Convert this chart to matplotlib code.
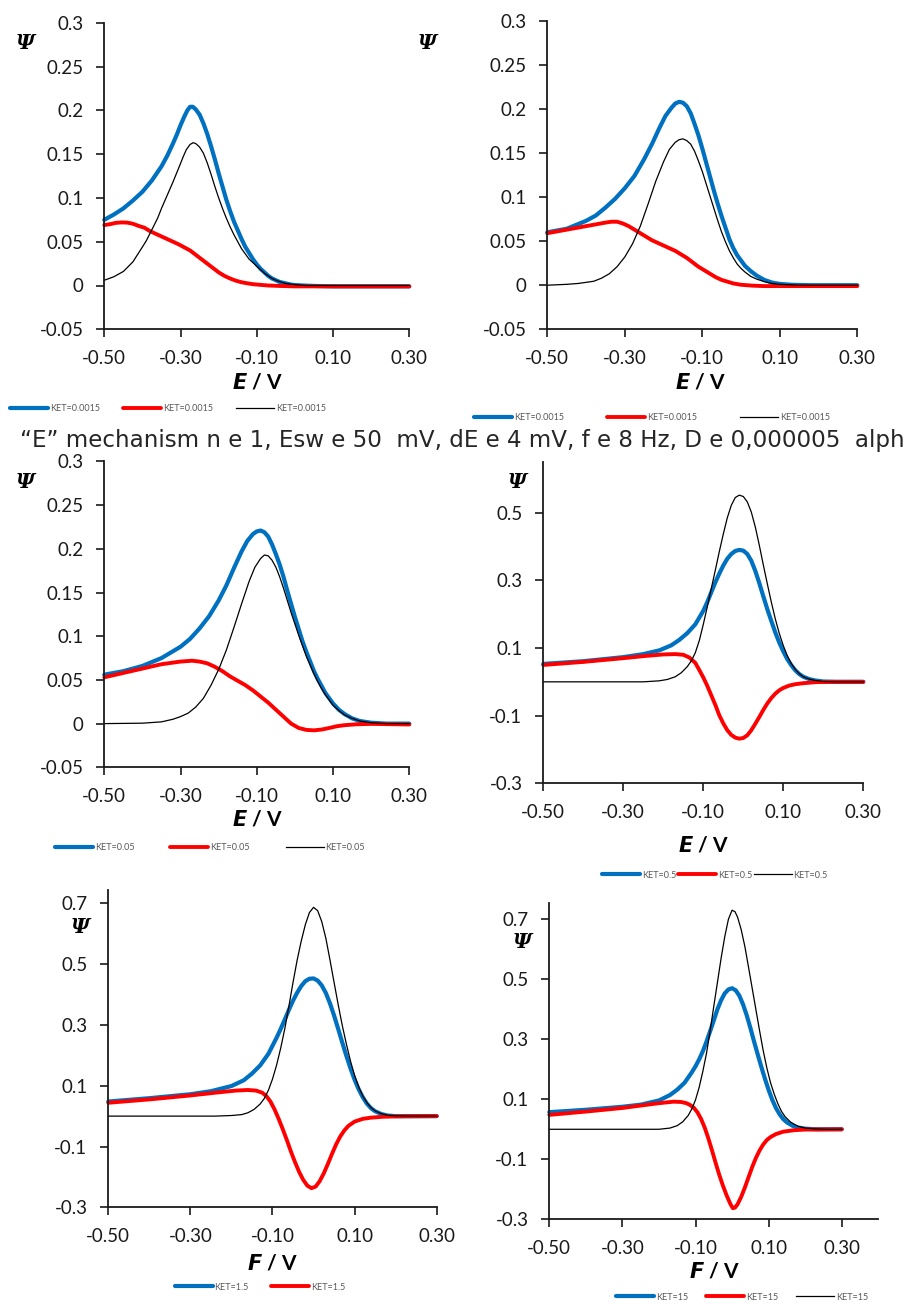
import numpy as np
import matplotlib
matplotlib.use("Agg")
import matplotlib.pyplot as plt

plt.rcParams['font.family'] = ['Lato', 'DejaVu Sans']

# ---- data (E in V, Psi dimensionless) ----
# panel A : top left, KET=0.0015
blue_A_E = [-0.50, -0.475, -0.45, -0.425, -0.40, -0.375, -0.35, -0.335, -0.32, -0.31, -0.30, -0.29, -0.282,
            -0.275, -0.268, -0.26, -0.25, -0.24, -0.23, -0.22, -0.21, -0.20, -0.19, -0.18, -0.17, -0.16,
            -0.15, -0.14, -0.13, -0.12, -0.11, -0.10, -0.09, -0.08, -0.07, -0.06, -0.05, -0.04, -0.03,
            -0.02, -0.01, 0.0, 0.02, 0.05, 0.10, 0.30]
blue_A = [0.075, 0.081, 0.088, 0.097, 0.107, 0.120, 0.136, 0.148, 0.162, 0.172, 0.183, 0.193, 0.200,
          0.204, 0.204, 0.201, 0.195, 0.185, 0.173, 0.159, 0.144, 0.128, 0.113, 0.098, 0.085, 0.073,
          0.063, 0.053, 0.044, 0.037, 0.030, 0.024, 0.019, 0.015, 0.011, 0.008, 0.006, 0.004, 0.003,
          0.002, 0.001, 0.0005, 0.0, -0.0005, -0.001, -0.001]
red_A_E = [-0.50, -0.485, -0.47, -0.455, -0.44, -0.425, -0.41, -0.395, -0.38, -0.365, -0.35, -0.335, -0.32,
           -0.305, -0.29, -0.275, -0.26, -0.245, -0.23, -0.215, -0.20, -0.185, -0.17, -0.155, -0.14, -0.125,
           -0.11, -0.09, -0.07, -0.04, 0.0, 0.30]
red_A = [0.069, 0.070, 0.0715, 0.072, 0.0718, 0.0705, 0.068, 0.066, 0.062, 0.059, 0.056, 0.053, 0.050,
         0.047, 0.0435, 0.040, 0.035, 0.030, 0.025, 0.020, 0.015, 0.011, 0.008, 0.0055, 0.0037, 0.0025,
         0.0015, 0.0007, 0.0, -0.0005, -0.001, -0.001]
black_A_E = [-0.50, -0.475, -0.45, -0.425, -0.40, -0.39, -0.376, -0.36, -0.35, -0.335, -0.32, -0.305, -0.293,
             -0.285, -0.275, -0.267, -0.26, -0.25, -0.24, -0.23, -0.22, -0.21, -0.20, -0.19, -0.18, -0.17,
             -0.16, -0.15, -0.14, -0.13, -0.12, -0.11, -0.10, -0.09, -0.08, -0.07, -0.06, -0.05, -0.04,
             -0.03, -0.02, -0.01, 0.0, 0.03, 0.30]
black_A = [0.006, 0.010, 0.016, 0.027, 0.044, 0.051, 0.063, 0.077, 0.088, 0.103, 0.118, 0.134, 0.147,
           0.155, 0.161, 0.163, 0.162, 0.158, 0.151, 0.140, 0.127, 0.113, 0.100, 0.088, 0.077, 0.067,
           0.058, 0.050, 0.042, 0.036, 0.030, 0.026, 0.022, 0.018, 0.014, 0.011, 0.008, 0.006, 0.0045,
           0.003, 0.002, 0.0015, 0.001, 0.0, 0.0]

# panel B : top right, KET=0.0015
blue_B_E = [-0.50, -0.45, -0.40, -0.375, -0.35, -0.325, -0.30, -0.275, -0.25, -0.23, -0.21, -0.195, -0.18,
            -0.17, -0.16, -0.15, -0.14, -0.13, -0.12, -0.11, -0.10, -0.09, -0.08, -0.07, -0.06, -0.05,
            -0.04, -0.03, -0.02, -0.01, 0.0, 0.01, 0.025, 0.04, 0.06, 0.08, 0.10, 0.13, 0.18, 0.30]
blue_B = [0.060, 0.064, 0.073, 0.079, 0.088, 0.098, 0.110, 0.124, 0.143, 0.160, 0.179, 0.192, 0.201,
          0.206, 0.208, 0.207, 0.203, 0.195, 0.183, 0.170, 0.155, 0.139, 0.123, 0.107, 0.092, 0.078,
          0.065, 0.052, 0.042, 0.034, 0.028, 0.022, 0.016, 0.011, 0.006, 0.003, 0.0015, 0.0005, 0.0, 0.0]
red_B_E = [-0.50, -0.475, -0.45, -0.425, -0.40, -0.375, -0.35, -0.335, -0.32, -0.305, -0.29, -0.275, -0.26,
           -0.245, -0.23, -0.215, -0.20, -0.185, -0.17, -0.155, -0.14, -0.125, -0.11, -0.095, -0.08, -0.065,
           -0.05, -0.035, -0.02, 0.0, 0.03, 0.06, 0.30]
red_B = [0.059, 0.061, 0.063, 0.065, 0.067, 0.069, 0.071, 0.072, 0.072, 0.070, 0.067, 0.063, 0.059,
         0.055, 0.051, 0.048, 0.045, 0.042, 0.039, 0.035, 0.031, 0.026, 0.021, 0.017, 0.013, 0.009,
         0.006, 0.004, 0.002, 0.0005, -0.0005, -0.001, -0.001]
black_B_E = [-0.50, -0.45, -0.42, -0.38, -0.36, -0.34, -0.32, -0.30, -0.28, -0.26, -0.24, -0.22, -0.20,
             -0.185, -0.17, -0.16, -0.15, -0.14, -0.13, -0.12, -0.11, -0.10, -0.09, -0.08, -0.07, -0.06,
             -0.05, -0.04, -0.03, -0.02, -0.01, 0.0, 0.01, 0.025, 0.04, 0.06, 0.08, 0.10, 0.15, 0.30]
black_B = [0.0, 0.001, 0.002, 0.0045, 0.008, 0.013, 0.021, 0.032, 0.047, 0.067, 0.092, 0.118, 0.140,
           0.154, 0.162, 0.165, 0.166, 0.164, 0.160, 0.152, 0.141, 0.129, 0.115, 0.101, 0.087, 0.073,
           0.060, 0.049, 0.039, 0.031, 0.024, 0.019, 0.015, 0.010, 0.007, 0.004, 0.002, 0.001, 0.0, 0.0]

# panel C : middle left, KET=0.05
blue_C_E = [-0.50, -0.45, -0.40, -0.35, -0.30, -0.275, -0.25, -0.225, -0.20, -0.18, -0.16, -0.14, -0.125,
            -0.11, -0.10, -0.09, -0.08, -0.07, -0.06, -0.05, -0.04, -0.03, -0.02, -0.01, 0.0, 0.01, 0.02,
            0.03, 0.04, 0.05, 0.06, 0.07, 0.08, 0.09, 0.10, 0.115, 0.13, 0.15, 0.17, 0.20, 0.24, 0.30]
blue_C = [0.056, 0.060, 0.066, 0.075, 0.088, 0.097, 0.109, 0.123, 0.141, 0.158, 0.178, 0.197, 0.209,
          0.217, 0.220, 0.221, 0.219, 0.214, 0.205, 0.194, 0.182, 0.168, 0.152, 0.137, 0.122, 0.108, 0.094,
          0.082, 0.071, 0.060, 0.051, 0.043, 0.035, 0.029, 0.023, 0.016, 0.011, 0.006, 0.003, 0.001, 0.0, 0.0]
red_C_E = [-0.50, -0.45, -0.40, -0.35, -0.30, -0.27, -0.25, -0.23, -0.21, -0.19, -0.17, -0.15, -0.13, -0.11,
           -0.09, -0.07, -0.05, -0.03, -0.01, 0.01, 0.03, 0.05, 0.07, 0.09, 0.11, 0.13, 0.16, 0.20, 0.30]
red_C = [0.053, 0.058, 0.063, 0.068, 0.071, 0.072, 0.071, 0.069, 0.065, 0.060, 0.054, 0.049, 0.044, 0.038,
         0.031, 0.024, 0.016, 0.008, 0.0, -0.005, -0.0072, -0.0077, -0.0068, -0.005, -0.003, -0.0018,
         -0.0008, -0.0003, -0.001]
black_C_E = [-0.50, -0.40, -0.35, -0.32, -0.30, -0.28, -0.26, -0.24, -0.22, -0.20, -0.18, -0.16, -0.14, -0.12,
             -0.105, -0.09, -0.08, -0.07, -0.06, -0.05, -0.04, -0.03, -0.02, -0.01, 0.0, 0.01, 0.02, 0.03,
             0.04, 0.05, 0.06, 0.07, 0.08, 0.09, 0.10, 0.115, 0.13, 0.15, 0.17, 0.20, 0.24, 0.30]
black_C = [0.0, 0.0005, 0.002, 0.005, 0.008, 0.012, 0.019, 0.029, 0.044, 0.062, 0.084, 0.110, 0.137, 0.163,
           0.179, 0.189, 0.193, 0.192, 0.187, 0.179, 0.168, 0.155, 0.141, 0.127, 0.114, 0.101, 0.089, 0.077,
           0.067, 0.057, 0.048, 0.040, 0.033, 0.027, 0.021, 0.015, 0.010, 0.006, 0.003, 0.001, 0.0, 0.0]

# panel D : middle right, KET=0.5
blue_D_E = [-0.50, -0.40, -0.30, -0.25, -0.21, -0.18, -0.16, -0.14, -0.12, -0.10, -0.09, -0.08, -0.07, -0.06,
            -0.05, -0.04, -0.03, -0.02, -0.01, 0.0, 0.01, 0.02, 0.03, 0.04, 0.05, 0.06, 0.07, 0.08, 0.09,
            0.10, 0.11, 0.12, 0.13, 0.14, 0.15, 0.165, 0.18, 0.20, 0.23, 0.30]
blue_D = [0.053, 0.061, 0.073, 0.082, 0.093, 0.108, 0.124, 0.144, 0.170, 0.210, 0.236, 0.265, 0.294, 0.320,
          0.344, 0.364, 0.378, 0.387, 0.390, 0.388, 0.378, 0.358, 0.328, 0.292, 0.253, 0.215, 0.180, 0.146,
          0.116, 0.090, 0.067, 0.049, 0.034, 0.023, 0.015, 0.008, 0.004, 0.001, 0.0, 0.0]
red_D_E = [-0.50, -0.40, -0.30, -0.25, -0.20, -0.17, -0.15, -0.135, -0.12, -0.11, -0.10, -0.09, -0.08, -0.07,
           -0.06, -0.05, -0.04, -0.03, -0.02, -0.01, 0.0, 0.01, 0.02, 0.03, 0.04, 0.05, 0.06, 0.07, 0.08,
           0.09, 0.10, 0.115, 0.13, 0.15, 0.18, 0.22, 0.30]
red_D = [0.050, 0.059, 0.070, 0.076, 0.081, 0.082, 0.080, 0.072, 0.056, 0.035, 0.013, -0.012, -0.040, -0.068,
         -0.099, -0.123, -0.143, -0.157, -0.165, -0.168, -0.166, -0.158, -0.143, -0.124, -0.104, -0.083,
         -0.064, -0.048, -0.035, -0.025, -0.018, -0.011, -0.007, -0.004, -0.001, 0.0, 0.0]
black_D_E = [-0.50, -0.25, -0.21, -0.19, -0.17, -0.155, -0.14, -0.13, -0.12, -0.11, -0.10, -0.09, -0.08,
             -0.07, -0.06, -0.05, -0.04, -0.03, -0.02, -0.01, 0.0, 0.01, 0.02, 0.03, 0.04, 0.05, 0.06, 0.07,
             0.08, 0.09, 0.10, 0.11, 0.12, 0.13, 0.14, 0.15, 0.165, 0.18, 0.20, 0.23, 0.30]
black_D = [0.0, 0.0, 0.003, 0.007, 0.015, 0.027, 0.045, 0.062, 0.086, 0.122, 0.170, 0.222, 0.276,
           0.330, 0.385, 0.437, 0.485, 0.522, 0.545, 0.552, 0.548, 0.532, 0.502, 0.458, 0.404, 0.346, 0.290,
           0.236, 0.186, 0.143, 0.107, 0.077, 0.054, 0.037, 0.024, 0.015, 0.008, 0.004, 0.001, 0.0, 0.0]

# panel E : bottom left, KET=1.5
blue_E_E = [-0.50, -0.40, -0.30, -0.25, -0.20, -0.17, -0.15, -0.13, -0.11, -0.09, -0.08, -0.07, -0.06, -0.05,
            -0.04, -0.03, -0.02, -0.01, 0.0, 0.01, 0.02, 0.03, 0.04, 0.05, 0.06, 0.07, 0.08, 0.09, 0.10,
            0.11, 0.12, 0.13, 0.14, 0.15, 0.165, 0.18, 0.20, 0.30]
blue_E = [0.048, 0.059, 0.072, 0.082, 0.099, 0.118, 0.140, 0.167, 0.205, 0.258, 0.287, 0.318, 0.350, 0.380,
          0.406, 0.428, 0.444, 0.452, 0.453, 0.446, 0.430, 0.405, 0.371, 0.331, 0.287, 0.242, 0.198, 0.157,
          0.120, 0.088, 0.062, 0.041, 0.026, 0.016, 0.007, 0.002, 0.0, 0.0]
red_E_E = [-0.50, -0.40, -0.30, -0.24, -0.19, -0.16, -0.14, -0.125, -0.115, -0.105, -0.095, -0.085, -0.075,
           -0.065, -0.055, -0.045, -0.035, -0.025, -0.015, -0.005, 0.005, 0.015, 0.025, 0.035, 0.045, 0.055,
           0.065, 0.075, 0.085, 0.10, 0.12, 0.14, 0.17, 0.20, 0.30]
red_E = [0.044, 0.055, 0.068, 0.077, 0.084, 0.086, 0.084, 0.077, 0.066, 0.048, 0.022, -0.009, -0.043,
         -0.079, -0.117, -0.152, -0.184, -0.210, -0.229, -0.237, -0.232, -0.214, -0.188, -0.157, -0.124,
         -0.093, -0.067, -0.047, -0.032, -0.018, -0.009, -0.005, -0.002, -0.001, 0.0]
black_E_E = [-0.50, -0.24, -0.20, -0.175, -0.16, -0.145, -0.13, -0.12, -0.11, -0.10, -0.09, -0.08, -0.07,
             -0.06, -0.05, -0.04, -0.03, -0.02, -0.01, 0.0, 0.01, 0.02, 0.03, 0.04, 0.05, 0.06, 0.07, 0.08,
             0.09, 0.10, 0.11, 0.12, 0.13, 0.14, 0.15, 0.165, 0.18, 0.20, 0.23, 0.30]
black_E = [0.0, 0.0, 0.002, 0.005, 0.011, 0.022, 0.040, 0.058, 0.085, 0.122, 0.168, 0.224, 0.288,
           0.362, 0.440, 0.513, 0.576, 0.630, 0.670, 0.687, 0.676, 0.640, 0.585, 0.514, 0.440, 0.367, 0.298,
           0.237, 0.181, 0.134, 0.096, 0.066, 0.044, 0.028, 0.017, 0.008, 0.003, 0.001, 0.0, 0.0]

# panel F : bottom right, KET=15
blue_F_E = [-0.50, -0.40, -0.30, -0.25, -0.20, -0.17, -0.15, -0.13, -0.11, -0.10, -0.09, -0.08, -0.07, -0.06,
            -0.05, -0.04, -0.03, -0.02, -0.01, 0.0, 0.01, 0.02, 0.03, 0.04, 0.05, 0.06, 0.07, 0.08, 0.09,
            0.10, 0.11, 0.12, 0.13, 0.14, 0.15, 0.165, 0.18, 0.20, 0.23, 0.30]
blue_F = [0.057, 0.065, 0.075, 0.082, 0.096, 0.114, 0.132, 0.155, 0.190, 0.210, 0.233, 0.260, 0.292, 0.327,
          0.363, 0.400, 0.430, 0.453, 0.466, 0.470, 0.463, 0.445, 0.416, 0.380, 0.338, 0.293, 0.250, 0.208,
          0.168, 0.131, 0.098, 0.071, 0.050, 0.034, 0.023, 0.012, 0.006, 0.002, 0.0, 0.0]
red_F_E = [-0.50, -0.40, -0.30, -0.25, -0.20, -0.16, -0.14, -0.125, -0.115, -0.105, -0.095, -0.085, -0.075,
           -0.065, -0.055, -0.045, -0.035, -0.025, -0.015, -0.005, 0.002, 0.008, 0.015, 0.025, 0.035, 0.045,
           0.055, 0.065, 0.075, 0.085, 0.095, 0.105, 0.12, 0.14, 0.17, 0.20, 0.30]
red_F = [0.048, 0.059, 0.071, 0.079, 0.087, 0.092, 0.091, 0.087, 0.081, 0.072, 0.057, 0.035, 0.006,
         -0.030, -0.070, -0.112, -0.152, -0.188, -0.220, -0.248, -0.263, -0.261, -0.250, -0.225, -0.194,
         -0.160, -0.126, -0.096, -0.071, -0.051, -0.036, -0.026, -0.016, -0.008, -0.003, -0.001, 0.0]
black_F_E = [-0.50, -0.20, -0.17, -0.15, -0.135, -0.12, -0.11, -0.10, -0.09, -0.08, -0.07, -0.06, -0.05,
             -0.04, -0.03, -0.02, -0.01, 0.0, 0.008, 0.015, 0.025, 0.035, 0.045, 0.055, 0.065, 0.075, 0.085,
             0.095, 0.105, 0.115, 0.125, 0.135, 0.145, 0.16, 0.18, 0.20, 0.23, 0.26, 0.30]
black_F = [0.0, 0.0, 0.004, 0.012, 0.025, 0.046, 0.068, 0.098, 0.140, 0.193, 0.253, 0.329, 0.410,
           0.490, 0.570, 0.642, 0.700, 0.730, 0.725, 0.707, 0.665, 0.609, 0.540, 0.470, 0.400, 0.330, 0.263,
           0.205, 0.156, 0.118, 0.086, 0.060, 0.042, 0.024, 0.010, 0.004, 0.001, 0.0, 0.0]

ket_labels = ["KET=0.0015", "KET=0.0015", "KET=0.05", "KET=0.5", "KET=1.5", "KET=15"]
x_ticks = [-0.5, -0.3, -0.1, 0.1, 0.3]
x_ticklabels = ["-0.50", "-0.30", "-0.10", "0.10", "0.30"]
y_ticks_small = [-0.05, 0, 0.05, 0.1, 0.15, 0.2, 0.25, 0.3]
y_ticklabels_small = ["-0.05", "0", "0.05", "0.1", "0.15", "0.2", "0.25", "0.3"]
y_ticks_big = [-0.3, -0.1, 0.1, 0.3, 0.5, 0.7]
y_ticklabels_big = ["-0.3", "-0.1", "0.1", "0.3", "0.5", "0.7"]
# the line is cut at the right edge in the reference, only this much shows
title_text = "\u201cE\u201d mechanism n e 1, Esw e 50  mV, dE e 4 mV, f e 8 Hz, D e 0,000005  alph"

BLUE = "#0070C0"
RED = "#FF0000"
W, H = 914, 1305

fig = plt.figure(figsize=(W / 100, H / 100), dpi=100)


def px_axes(x0, x1, ytop, ybot):
    return fig.add_axes([x0 / W, 1 - ybot / H, (x1 - x0) / W, (ybot - ytop) / H])


def style(ax, xlim, ylim, yt, ytl):
    ax.set_xlim(*xlim)
    ax.set_ylim(*ylim)
    ax.set_xticks(x_ticks)
    ax.set_xticklabels(x_ticklabels)
    ax.set_yticks(yt)
    ax.set_yticklabels(ytl)
    for s in ["top", "right"]:
        ax.spines[s].set_visible(False)
    for s in ["left", "bottom"]:
        ax.spines[s].set_linewidth(1.3)
        ax.spines[s].set_color("#1a1a1a")
    ax.tick_params(axis="x", direction="out", length=6, width=1.2, pad=9, labelsize=13.5, colors="#1a1a1a")
    ax.tick_params(axis="y", direction="out", length=6, width=1.2, pad=9, labelsize=13.5, colors="#1a1a1a")
    ax.patch.set_alpha(0)


def curves(ax, b, r, k):
    hb, = ax.plot(b[0], b[1], color=BLUE, lw=3.0, solid_joinstyle="round", solid_capstyle="round")
    hr, = ax.plot(r[0], r[1], color=RED, lw=2.8, solid_joinstyle="round", solid_capstyle="round")
    hk, = ax.plot(k[0], k[1], color="black", lw=0.9, solid_joinstyle="round")
    for h in (hb, hr, hk):
        h.set_clip_on(False)
    return hb, hr, hk


def legend(handles, label, cx, cy, colsp):
    fig.legend(handles, [label] * len(handles), loc="center", bbox_to_anchor=(cx / W, 1 - cy / H),
               ncol=len(handles), frameon=False, fontsize=6.5, handlelength=4.2, handletextpad=0.2,
               columnspacing=colsp, labelcolor="#595959")


def psi(x, y):
    fig.text(x / W, 1 - y / H, "\u03a8", family="DejaVu Serif", weight="bold", style="italic",
             fontsize=15, ha="center", va="center")


def xlab(x, y, letter):
    fig.text(x / W, 1 - y / H, r"$\mathbfit{%s}$ / V" % letter, fontsize=15, weight="bold",
             ha="center", va="center")


# top left
ax = px_axes(104.3, 409.3, 22.7, 329.3)
style(ax, (-0.5, 0.3), (-0.05, 0.3), y_ticks_small, y_ticklabels_small)
h = curves(ax, (blue_A_E, blue_A), (red_A_E, red_A), (black_A_E, black_A))
legend(h, ket_labels[0], 168, 409, 2.6)
psi(25, 43)
xlab(257, 383, "E")

# top right
ax = px_axes(547.3, 857.3, 20.7, 329.3)
style(ax, (-0.5, 0.3), (-0.05, 0.3), y_ticks_small, y_ticklabels_small)
h = curves(ax, (blue_B_E, blue_B), (red_B_E, red_B), (black_B_E, black_B))
legend(h, ket_labels[1], 652, 418, 4.8)
psi(427, 43)
xlab(700, 383, "E")

fig.text(20 / W, 1 - 440 / H, title_text, family=["DejaVu Sans"], fontsize=16.6, color="#262626",
         ha="left", va="center")

# middle left
ax = px_axes(104.3, 409.3, 461.5, 767.3)
style(ax, (-0.5, 0.3), (-0.05, 0.3), y_ticks_small, y_ticklabels_small)
h = curves(ax, (blue_C_E, blue_C), (red_C_E, red_C), (black_C_E, black_C))
legend(h, ket_labels[2], 210, 848, 4.0)
psi(25, 482)
xlab(257, 820, "E")

# middle right
ax = px_axes(543.3, 863.3, 462, 783.3)
style(ax, (-0.5, 0.3), (-0.3, 0.65), y_ticks_big[:5], y_ticklabels_big[:5])
h = curves(ax, (blue_D_E, blue_D), (red_D_E, red_D), (black_D_E, black_D))
legend(h, ket_labels[3], 715, 875, 0.2)
psi(517, 482)
xlab(703, 846, "E")

# bottom left
ax = px_axes(108.3, 436.7, 890, 1207.3)
style(ax, (-0.5, 0.3), (-0.3, 0.744), y_ticks_big, y_ticklabels_big)
h = curves(ax, (blue_E_E, blue_E), (red_E_E, red_E), (black_E_E, black_E))
legend(h[:2], ket_labels[4], 260, 1287, 2.5)
psi(80, 927)
xlab(272, 1263, "F")

# bottom right
ax = px_axes(549.3, 878.3, 903.3, 1219.3)
style(ax, (-0.5, 0.4), (-0.3, 0.753), y_ticks_big, y_ticklabels_big)
h = curves(ax, (blue_F_E, blue_F), (red_F_E, red_F), (black_F_E, black_F))
legend(h, ket_labels[5], 742, 1297, 2.0)
psi(522, 942)
xlab(714, 1272, "F")

fig.savefig("out.png", dpi=100)
